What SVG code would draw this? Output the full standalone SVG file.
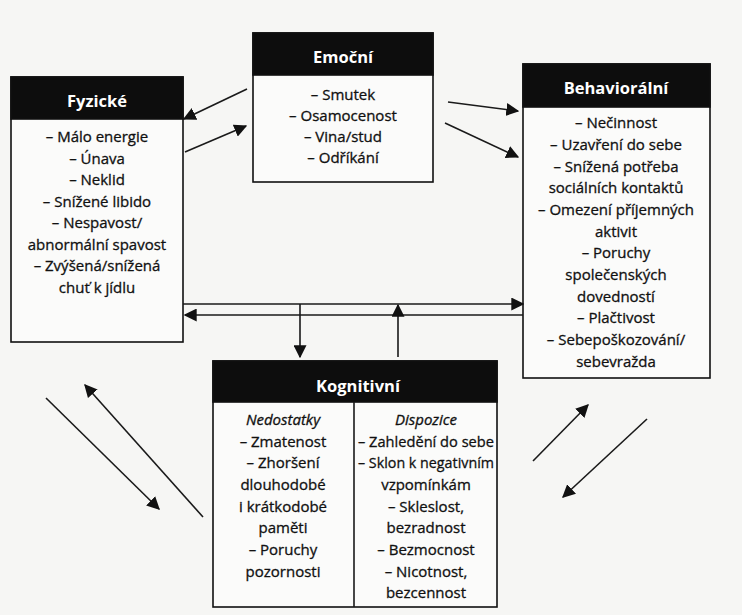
<svg xmlns="http://www.w3.org/2000/svg" width="742" height="615" viewBox="0 0 742 615">
<defs>
<style>
.bg{fill:#f6f6f4}
.box{fill:#fbfbfa;stroke:#111;stroke-width:1.6}
.hdr{fill:#0d0d0d;stroke:#111;stroke-width:1.6}
.ht{font-family:"Open Sans","Noto Sans",sans-serif;font-weight:bold;font-size:16.5px;fill:#fff;text-anchor:middle}
.t{font-family:"Open Sans","Noto Sans",sans-serif;font-size:15px;fill:#111;stroke:#111;stroke-width:0.3;text-anchor:middle}
.it{font-style:italic}
.c{stroke:#1a1a1a;stroke-width:1.6;fill:none}
</style>
<marker id="ahL" viewBox="0 0 10 10" refX="9" refY="5" markerWidth="13" markerHeight="13" markerUnits="userSpaceOnUse" orient="auto">
<path d="M0,0 L10,5 L0,10 z" fill="#111"/>
</marker>
</defs>
<rect class="bg" x="0" y="0" width="742" height="615"/>

<g id="fyzicke">
<rect class="box" x="11" y="77" width="172" height="265"/>
<rect class="hdr" x="11" y="77" width="172" height="42"/>
<text class="ht" x="97" y="107">Fyzické</text>
<text class="t" x="97" y="142">– Málo energie</text>
<text class="t" x="97" y="164">– Únava</text>
<text class="t" x="97" y="185">– Neklid</text>
<text class="t" x="97" y="207">– Snížené libido</text>
<text class="t" x="97" y="228">– Nespavost/</text>
<text class="t" x="97" y="250">abnormální spavost</text>
<text class="t" x="97" y="271">– Zvýšená/snížená</text>
<text class="t" x="97" y="293">chuť k jídlu</text>
</g>

<g id="emocni">
<rect class="box" x="253" y="33" width="180" height="149"/>
<rect class="hdr" x="253" y="33" width="180" height="42"/>
<text class="ht" x="343" y="63">Emoční</text>
<text class="t" x="343" y="100">– Smutek</text>
<text class="t" x="343" y="121">– Osamocenost</text>
<text class="t" x="343" y="142">– Vina/stud</text>
<text class="t" x="343" y="163">– Odříkání</text>
</g>

<g id="behavioralni">
<rect class="box" x="523" y="64" width="187" height="314"/>
<rect class="hdr" x="523" y="64" width="187" height="43"/>
<text class="ht" x="616" y="94">Behaviorální</text>
<text class="t" x="616" y="128">– Nečinnost</text>
<text class="t" x="616" y="150">– Uzavření do sebe</text>
<text class="t" x="616" y="172">– Snížená potřeba</text>
<text class="t" x="616" y="193">sociálních kontaktů</text>
<text class="t" x="616" y="215">– Omezení příjemných</text>
<text class="t" x="616" y="237">aktivit</text>
<text class="t" x="616" y="258">– Poruchy</text>
<text class="t" x="616" y="280">společenských</text>
<text class="t" x="616" y="302">dovedností</text>
<text class="t" x="616" y="323">– Plačtivost</text>
<text class="t" x="616" y="345">– Sebepoškozování/</text>
<text class="t" x="616" y="367">sebevražda</text>
</g>

<g id="kognitivni">
<rect class="box" x="213" y="361" width="284" height="246"/>
<rect class="hdr" x="213" y="361" width="284" height="41"/>
<line class="c" x1="354" y1="402" x2="354" y2="607"/>
<text class="ht" x="358" y="392">Kognitivní</text>
<text class="t it" x="283" y="425">Nedostatky</text>
<text class="t" x="283" y="447">– Zmatenost</text>
<text class="t" x="283" y="468">– Zhoršení</text>
<text class="t" x="283" y="490">dlouhodobé</text>
<text class="t" x="283" y="512">i krátkodobé</text>
<text class="t" x="283" y="533">paměti</text>
<text class="t" x="283" y="555">– Poruchy</text>
<text class="t" x="283" y="577">pozornosti</text>
<text class="t it" x="426" y="425">Dispozice</text>
<text class="t" x="426" y="447" textLength="136" lengthAdjust="spacingAndGlyphs">– Zahledění do sebe</text>
<text class="t" x="426" y="468" textLength="136" lengthAdjust="spacingAndGlyphs">– Sklon k negativním</text>
<text class="t" x="426" y="490">vzpomínkám</text>
<text class="t" x="426" y="512">– Skleslost,</text>
<text class="t" x="426" y="533">bezradnost</text>
<text class="t" x="426" y="555">– Bezmocnost</text>
<text class="t" x="426" y="577">– Nicotnost,</text>
<text class="t" x="426" y="598">bezcennost</text>
</g>

<g id="connectors">
<line class="c" x1="247" y1="89" x2="184" y2="119" marker-end="url(#ahL)"/>
<line class="c" x1="185" y1="152" x2="246" y2="126" marker-end="url(#ahL)"/>
<line class="c" x1="448" y1="102" x2="518" y2="111" marker-end="url(#ahL)"/>
<line class="c" x1="445" y1="123" x2="518" y2="157" marker-end="url(#ahL)"/>
<line class="c" x1="183" y1="304" x2="523" y2="304" marker-end="url(#ahL)"/>
<line class="c" x1="523" y1="315" x2="185" y2="315" marker-end="url(#ahL)"/>
<line class="c" x1="300" y1="304" x2="300" y2="357" marker-end="url(#ahL)"/>
<line class="c" x1="398" y1="357" x2="398" y2="305" marker-end="url(#ahL)"/>
<line class="c" x1="46" y1="398" x2="159" y2="509" marker-end="url(#ahL)"/>
<line class="c" x1="203" y1="517" x2="85" y2="385" marker-end="url(#ahL)"/>
<line class="c" x1="533" y1="461" x2="588" y2="405" marker-end="url(#ahL)"/>
<line class="c" x1="647" y1="419" x2="563" y2="497" marker-end="url(#ahL)"/>
</g>
</svg>
